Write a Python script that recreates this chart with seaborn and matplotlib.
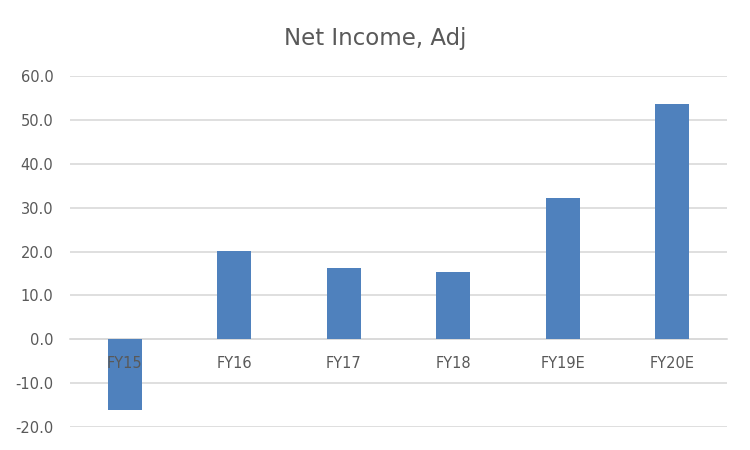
import matplotlib
matplotlib.use("Agg")
import matplotlib.pyplot as plt
import numpy as np
import pandas as pd
import seaborn as sns

# values
years = ["FY15", "FY16", "FY17", "FY18", "FY19E", "FY20E"]
net_income = [-16.1, 20.1, 16.2, 15.3, 32.2, 53.7]
y_ticks = [-20, -10, 0, 10, 20, 30, 40, 50, 60]

bar_color = "#4F81BD"
text_color = "#595959"
grid_color = "#D9D9D9"

sns.set_theme(style="white")
plt.rcParams["font.family"] = ["DejaVu Sans"]

df = pd.DataFrame({"year": years, "value": net_income})

fig = plt.figure(figsize=(7.5, 4.5), dpi=100)
ax = fig.add_axes([0.0933, 0.0518, 0.876, 0.7786])

sns.barplot(data=df, x="year", y="value", color=bar_color, width=0.31,
	saturation=1, linewidth=0, ax=ax, zorder=3)

ax.set_ylim(-20, 60)
ax.set_xlim(-0.5, len(years) - 0.5)
ax.set_yticks(y_ticks)
ax.set_yticklabels(["%.1f" % t for t in y_ticks])
ax.yaxis.grid(True, color=grid_color, linewidth=1.2, zorder=0)
ax.set_axisbelow(True)

# category axis sits on the zero line, labels drawn over the bars
for side in ["top", "right", "left"]:
	ax.spines[side].set_visible(False)
ax.spines["bottom"].set_position(("data", 0))
ax.spines["bottom"].set_color(grid_color)
ax.spines["bottom"].set_linewidth(1.2)
ax.spines["bottom"].set_zorder(2)
ax.xaxis.set_zorder(5)

ax.tick_params(axis="x", length=0, pad=12, labelsize=10.5, colors=text_color)
ax.tick_params(axis="y", length=0, pad=12, labelsize=10.5, colors=text_color)

ax.set_xlabel("")
ax.set_ylabel("")

fig.suptitle("Net Income, Adj", x=0.5, y=0.94, fontsize=16.5, color=text_color)

fig.savefig("out.png", dpi=100)
